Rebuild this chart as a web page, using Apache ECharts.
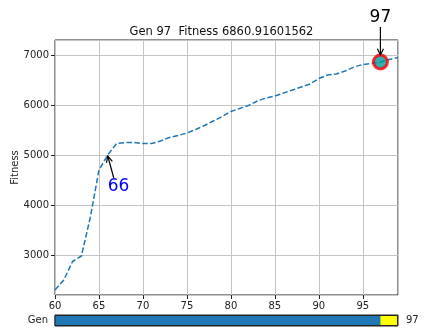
<!DOCTYPE html>
<html>
<head>
<meta charset="utf-8">
<script src="https://cdn.jsdelivr.net/npm/echarts@6/dist/echarts.min.js"></script>
<style>
  html, body { margin: 0; padding: 0; background: #fff; }
  #chart { width: 443px; height: 332px; }
</style>
</head>
<body>
<div id="chart"></div>
<script>
// generations shown on the x axis
const gens = [60, 61, 62, 63, 64, 65, 66, 67, 68, 69,
  70, 71, 72, 73, 74, 75, 76, 77, 78, 79,
  80, 81, 82, 83, 84, 85, 86, 87, 88, 89,
  90, 91, 92, 93, 94, 95, 96, 97, 98, 99];
// best fitness per generation
const fitness = [2300, 2500, 2870, 2980, 3740, 4700, 5000, 5230, 5250, 5250,
  5230, 5230, 5280, 5350, 5390, 5440, 5510, 5590, 5680, 5770,
  5870, 5930, 5990, 6080, 6140, 6180, 6240, 6300, 6360, 6420,
  6530, 6600, 6620, 6680, 6760, 6810, 6830, 6860.91601562, 6910, 6950];
const curGen = 97;
const curFitness = 6860.91601562;
const noteGen = 66;
const noteFitness = 5000;
const genRange = [60, 99];
const fitRange = [2200, 7300];

const font = 'DejaVu Sans, sans-serif';
const gridColor = '#c4c4c4';
const chart = echarts.init(document.getElementById('chart'), null, { renderer: 'canvas' });

chart.setOption({
  animation: false,
  textStyle: { fontFamily: font },
  title: {
    text: 'Gen ' + curGen + '  Fitness ' + curFitness.toFixed(8),
    left: 'center', top: 21,
    textStyle: { fontSize: 11.5, fontWeight: 'normal', color: '#111', fontFamily: font }
  },
  grid: [
    { left: 55, right: 45, top: 40, bottom: 37, outerBoundsMode: 'none', containLabel: false,
      show: true, borderColor: '#222', borderWidth: 1, backgroundColor: '#fff' },
    { left: 55, right: 45, top: 315, height: 11, outerBoundsMode: 'none', containLabel: false,
      show: true, borderColor: '#222', borderWidth: 1, backgroundColor: '#ffff00' }
  ],
  xAxis: [
    {
      gridIndex: 0, type: 'value', min: genRange[0], max: genRange[1], interval: 5,
      axisLine: { show: false },
      axisTick: { show: true, length: 4, lineStyle: { color: '#222' } },
      axisLabel: { color: '#222', fontSize: 10, margin: 6, showMaxLabel: false, fontFamily: font,
        formatter: v => String(v) },
      splitLine: { show: true, lineStyle: { color: gridColor, width: 1 } }
    },
    { gridIndex: 1, type: 'value', min: genRange[0], max: genRange[1], show: false }
  ],
  yAxis: [
    {
      gridIndex: 0, type: 'value', min: fitRange[0], max: fitRange[1], splitNumber: 5,
      name: 'Fitness', nameLocation: 'middle', nameGap: 35, nameMoveOverlap: false,
      nameTextStyle: { color: '#222', fontSize: 10, fontFamily: font },
      axisLine: { show: false },
      axisTick: { show: true, length: 4, lineStyle: { color: '#222' } },
      axisLabel: { color: '#222', fontSize: 10, margin: 6, showMinLabel: false, showMaxLabel: false,
        fontFamily: font, formatter: v => String(v) },
      splitLine: { show: true, lineStyle: { color: gridColor, width: 1 } }
    },
    {
      gridIndex: 1, type: 'category', data: ['Gen'],
      axisLine: { show: false }, axisTick: { show: false },
      axisLabel: { color: '#222', fontSize: 10, margin: 7, fontFamily: font }
    },
    {
      gridIndex: 1, type: 'category', data: [String(curGen)], position: 'right',
      axisLine: { show: false }, axisTick: { show: false },
      axisLabel: { color: '#222', fontSize: 10, margin: 8, fontFamily: font }
    }
  ],
  series: [
    {
      type: 'line', xAxisIndex: 0, yAxisIndex: 0,
      data: gens.map((g, i) => [g, fitness[i]]),
      symbol: 'none',
      lineStyle: { color: '#1f77b4', width: 1.5, type: [5.5, 2.4] }
    },
    {
      type: 'scatter', xAxisIndex: 0, yAxisIndex: 0, z: 5,
      data: [[curGen, curFitness]],
      symbolSize: 14,
      itemStyle: { color: '#009898', borderColor: '#ff0000', borderWidth: 3 }
    },
    {
      type: 'bar', xAxisIndex: 1, yAxisIndex: 1,
      data: [curGen], barWidth: '100%',
      itemStyle: { color: '#1f77b4' }
    },
    {
      type: 'bar', xAxisIndex: 1, yAxisIndex: 1,
      data: [genRange[1]], barWidth: '100%', barGap: '-100%',
      itemStyle: { color: 'rgba(0,0,0,0)', borderColor: '#222', borderWidth: 1 }
    }
  ]
});

// annotations: text + "->" arrow, offset in pixels from the annotated point
function arrow(x1, y1, x2, y2) {
  const a = Math.atan2(y2 - y1, x2 - x1), h = 7, w = 0.45;
  return [
    { type: 'line', shape: { x1, y1, x2, y2 }, style: { stroke: '#000', lineWidth: 1.2 }, z: 10 },
    { type: 'polyline', z: 10,
      shape: { points: [[x2 - h * Math.cos(a - w), y2 - h * Math.sin(a - w)], [x2, y2],
        [x2 - h * Math.cos(a + w), y2 - h * Math.sin(a + w)]] },
      style: { stroke: '#000', lineWidth: 1.2, fill: null } }
  ];
}
const p1 = chart.convertToPixel({ gridIndex: 0 }, [curGen, curFitness]);
const p2 = chart.convertToPixel({ gridIndex: 0 }, [noteGen, noteFitness]);
chart.setOption({
  graphic: [
    ...arrow(p1[0], p1[1] - 35, p1[0], p1[1] - 7),
    { type: 'text', x: p1[0], y: p1[1] - 44, z: 10,
      style: { text: String(curGen), fill: '#000', font: '17px ' + font, align: 'center', verticalAlign: 'middle' } },
    ...arrow(p2[0] + 6, p2[1] + 23, p2[0], p2[1] + 1),
    { type: 'text', x: p2[0], y: p2[1] + 32, z: 10,
      style: { text: String(noteGen), fill: '#0000ff', font: '17px ' + font, align: 'left', verticalAlign: 'middle' } }
  ]
});
</script>
</body>
</html>
